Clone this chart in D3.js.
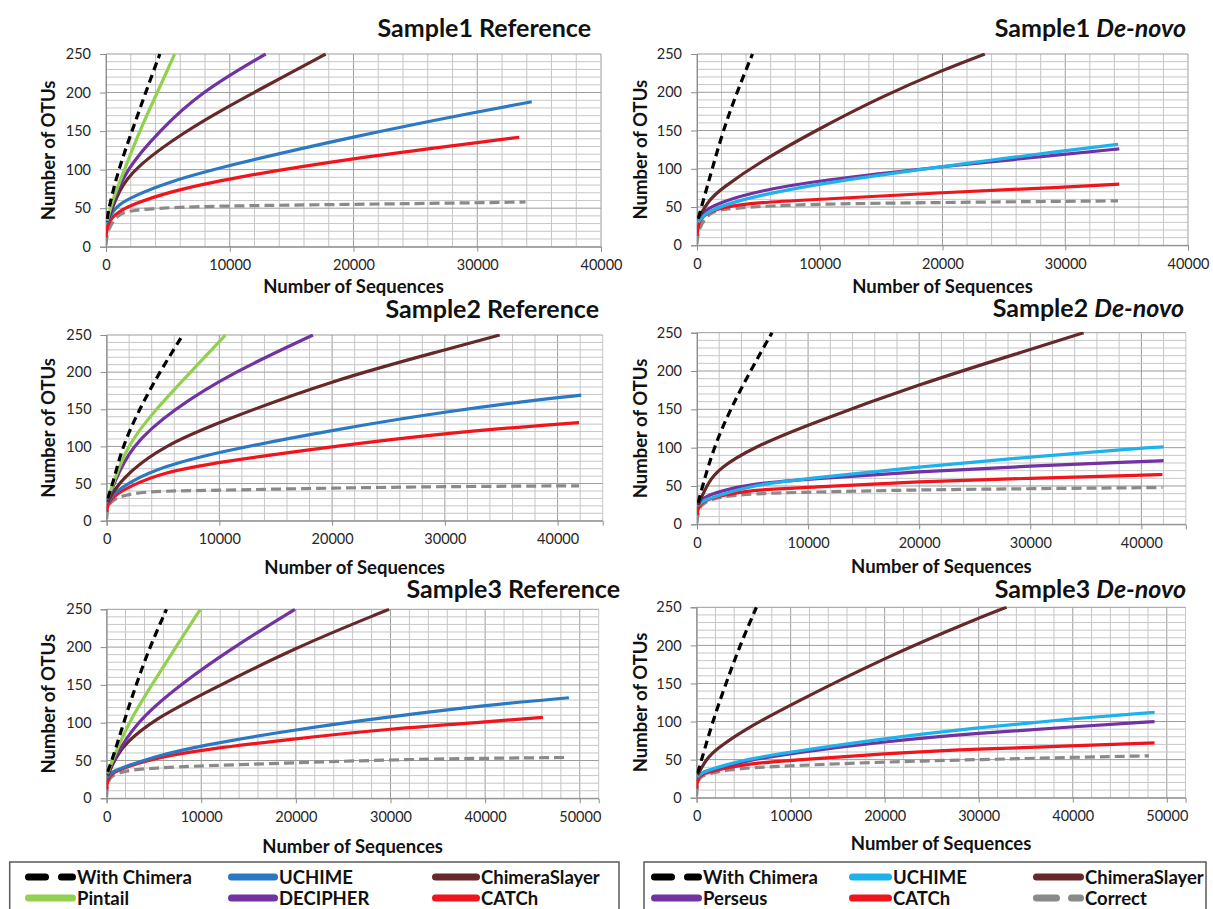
<!DOCTYPE html>
<html>
<head>
<meta charset="utf-8">
<script src="https://cdnjs.cloudflare.com/ajax/libs/d3/7.8.5/d3.min.js"></script>
<style>
  body { margin: 0; background: #fff; }
  svg { display: block; }
  text { font-family: Lato, "Open Sans", sans-serif; }
</style>
</head>
<body>
<svg id="chart" width="1213" height="909"></svg>
<script>
// rarefaction curves, [sequences, OTUs]
const s1RefWithChimera = [[100,36],[250,52],[1000,100],[2100,150],[3200,200],[4350,250]];
const s1RefPintail = [[100,34],[500,60],[1500,100],[2700,150],[4150,200],[5550,250]];
const s1RefDecipher = [[100,33],[500,55],[1600,100],[4300,150],[7600,200],[12900,250]];
const s1RefChimeraSlayer = [[100,32],[500,50],[1000,70],[2100,100],[6400,150],[10000,183],[12300,203],[17750,250]];
const s1RefUchime = [[100,31],[500,45],[1000,54],[2000,64],[5000,84],[10000,106],[20000,143],[30000,175],[34400,188]];
const s1RefCatch = [[0,12],[100,28],[500,38],[1000,45],[2000,54],[5000,71],[10000,89],[20000,115],[30000,135],[33400,142]];
const s1RefCorrect = [[0,2],[100,22],[1000,43],[2000,47],[5000,51],[10000,53],[20000,55],[30000,57],[33900,58]];

const s1DnWithChimera = [[100,35],[450,55],[1240,100],[2130,150],[3250,200],[4520,250]];
const s1DnChimeraSlayer = [[100,35],[1000,60],[2000,74],[5000,108],[10000,153],[15000,194],[20000,229],[23450,250]];
const s1DnUchime = [[100,30],[500,40],[2000,52],[5000,65],[10000,81],[20000,103],[30000,124],[34300,132]];
const s1DnPerseus = [[100,32],[500,45],[2000,57],[5000,71],[10000,85],[20000,103],[30000,119],[34400,126]];
const s1DnCatch = [[0,12],[100,28],[500,40],[2000,50],[5000,56],[10000,60],[20000,69],[30000,76],[34400,80]];
const s1DnCorrect = [[0,2],[100,22],[1000,43],[2000,47],[5000,51],[10000,54],[20000,56],[30000,57.5],[34300,58]];

const s2RefWithChimera = [[100,30],[550,50],[1400,100],[2900,150],[4700,200],[6760,250]];
const s2RefPintail = [[100,30],[600,50],[1750,100],[4350,150],[7450,200],[10550,250]];
const s2RefDecipher = [[100,28],[600,48],[2100,100],[5900,150],[11240,200],[18300,250]];
const s2RefChimeraSlayer = [[100,25],[500,38],[2000,66],[5000,100],[10000,133],[20000,189],[30000,230],[34860,250]];
const s2RefUchime = [[100,24],[500,35],[2000,52],[5000,73],[10000,93],[20000,122],[30000,147],[40000,166],[42100,169]];
const s2RefCatch = [[0,12],[100,22],[500,32],[2000,46],[5000,65],[10000,79],[20000,100],[30000,118],[40000,130],[41900,132]];
const s2RefCorrect = [[0,2],[100,20],[500,28],[2000,37],[5000,40],[10000,41],[20000,44],[30000,46],[41900,47]];

const s2DnWithChimera = [[100,28],[500,50],[1500,100],[3000,150],[4800,200],[6750,250]];
const s2DnChimeraSlayer = [[100,25],[1000,55],[2000,73],[5000,100],[10000,130],[20000,183],[30000,228],[34800,250]];
const s2DnUchime = [[100,24],[500,31],[2000,38],[5000,51],[10000,60],[20000,75],[30000,88],[40000,99.5],[42000,101]];
const s2DnPerseus = [[100,25],[500,35],[2000,43],[5000,53],[10000,59],[20000,69],[30000,76],[40000,82],[42000,83]];
const s2DnCatch = [[0,12],[100,22],[500,30],[2000,37],[5000,45],[10000,48],[20000,56],[30000,60],[40000,64],[41900,65]];
const s2DnCorrect = [[0,2],[100,18],[500,28],[2000,36],[5000,40],[10000,42],[20000,45],[30000,46.5],[41900,48]];

const s3RefWithChimera = [[100,35],[575,50],[1800,100],[3100,150],[4560,200],[6330,250]];
const s3RefPintail = [[100,33],[600,50],[2300,100],[4770,150],[7320,200],[9900,250]];
const s3RefDecipher = [[100,32],[600,48],[3000,100],[7700,150],[13400,200],[19900,250]];
const s3RefChimeraSlayer = [[100,30],[1000,55],[2000,73],[5000,104],[10000,137],[20000,200],[29850,250]];
const s3RefUchime = [[100,27],[500,35],[2000,42],[5000,55],[10000,70],[20000,91],[30000,108],[40000,123],[48850,133]];
const s3RefCatch = [[0,12],[100,25],[500,33],[2000,41],[5000,53],[10000,64],[20000,79],[30000,92],[40000,101],[46100,107]];
const s3RefCorrect = [[0,2],[100,22],[500,30],[2000,37],[5000,40],[10000,43],[20000,47],[30000,51],[40000,53],[48650,54]];

const s3DnWithChimera = [[100,32],[540,50],[1700,100],[3120,150],[4610,200],[6360,250]];
const s3DnChimeraSlayer = [[100,30],[1000,50],[2000,63],[5000,89],[10000,122],[20000,184],[30000,236],[32960,250]];
const s3DnUchime = [[100,27],[500,33],[2000,39],[5000,50],[10000,60],[20000,78],[30000,92],[40000,104],[48700,112]];
const s3DnPerseus = [[100,27],[500,33],[2000,38],[5000,48],[10000,58],[20000,74],[30000,85],[40000,93],[48700,100]];
const s3DnCatch = [[0,12],[100,25],[500,31],[2000,36],[5000,44],[10000,49],[20000,58],[30000,64],[40000,68],[48700,72]];
const s3DnCorrect = [[0,2],[100,22],[500,29],[2000,34],[5000,39],[10000,42],[20000,47],[30000,50],[40000,53],[48100,55]];

const yTicks = [0, 50, 100, 150, 200, 250];
const legendRefLabels = ["With Chimera", "UCHIME", "ChimeraSlayer", "Pintail", "DECIPHER", "CATCh"];
const legendDnLabels = ["With Chimera", "UCHIME", "ChimeraSlayer", "Perseus", "CATCh", "Correct"];

const C = {
  chimera: "#000000",
  uchimeRef: "#2B79C2",
  uchimeDn: "#1EB2EC",
  slayer: "#66292A",
  pintail: "#92D050",
  purple: "#7232A2",
  red: "#F2141C",
  correct: "#8A8A8A",
};
const DASH_BLACK = "8,5";
const DASH_GREY = "10,5";

const svg = d3.select("#chart");
svg.append("rect").attr("width", 1213).attr("height", 909).attr("fill", "#fff");

const panels = [
  { name: "Sample1", kind: "Reference", left: 106, right: 601, top: 54, bottom: 246.7, xMax: 40000,
    titleX: 591, titleY: 37, yTitleX: 49, xTitleY: 287,
    series: [[s1RefCorrect, C.correct, DASH_GREY], [s1RefCatch, C.red], [s1RefUchime, C.uchimeRef],
      [s1RefChimeraSlayer, C.slayer], [s1RefDecipher, C.purple], [s1RefPintail, C.pintail],
      [s1RefWithChimera, C.chimera, DASH_BLACK]] },
  { name: "Sample1", kind: "De-novo", left: 697, right: 1188, top: 54, bottom: 245.3, xMax: 40000,
    titleX: 1186, titleY: 37, yTitleX: 641, xTitleY: 287,
    series: [[s1DnCorrect, C.correct, DASH_GREY], [s1DnCatch, C.red], [s1DnPerseus, C.purple],
      [s1DnUchime, C.uchimeDn], [s1DnChimeraSlayer, C.slayer], [s1DnWithChimera, C.chimera, DASH_BLACK]] },
  { name: "Sample2", kind: "Reference", left: 106.6, right: 602.7, top: 335, bottom: 520.7, xMax: 44000,
    titleX: 599, titleY: 318, yTitleX: 49, xTitleY: 568,
    series: [[s2RefCorrect, C.correct, DASH_GREY], [s2RefCatch, C.red], [s2RefUchime, C.uchimeRef],
      [s2RefChimeraSlayer, C.slayer], [s2RefDecipher, C.purple], [s2RefPintail, C.pintail],
      [s2RefWithChimera, C.chimera, DASH_BLACK]] },
  { name: "Sample2", kind: "De-novo", left: 697, right: 1185.8, top: 332.7, bottom: 524.3, xMax: 44000,
    titleX: 1184, titleY: 317, yTitleX: 641, xTitleY: 567,
    series: [[s2DnCorrect, C.correct, DASH_GREY], [s2DnCatch, C.red], [s2DnPerseus, C.purple],
      [s2DnUchime, C.uchimeDn], [s2DnChimeraSlayer, C.slayer], [s2DnWithChimera, C.chimera, DASH_BLACK]] },
  { name: "Sample3", kind: "Reference", left: 106.6, right: 598.7, top: 609.3, bottom: 798.3, xMax: 52000,
    titleX: 620, titleY: 598, yTitleX: 49, xTitleY: 847,
    series: [[s3RefCorrect, C.correct, DASH_GREY], [s3RefCatch, C.red], [s3RefUchime, C.uchimeRef],
      [s3RefChimeraSlayer, C.slayer], [s3RefDecipher, C.purple], [s3RefPintail, C.pintail],
      [s3RefWithChimera, C.chimera, DASH_BLACK]] },
  { name: "Sample3", kind: "De-novo", left: 696.6, right: 1185.6, top: 607.3, bottom: 797.7, xMax: 52000,
    titleX: 1186, titleY: 598, yTitleX: 641, xTitleY: 844,
    series: [[s3DnCorrect, C.correct, DASH_GREY], [s3DnCatch, C.red], [s3DnPerseus, C.purple],
      [s3DnUchime, C.uchimeDn], [s3DnChimeraSlayer, C.slayer], [s3DnWithChimera, C.chimera, DASH_BLACK]] },
];

const drawPanel = (p, i) => {
  const x = d3.scaleLinear().domain([0, p.xMax]).range([p.left, p.right]);
  const y = d3.scaleLinear().domain([0, 250]).range([p.bottom, p.top]);
  const g = svg.append("g");

  // grid: minor every 2000 / 10, major every 10000 / 50
  const xMinor = d3.range(0, p.xMax + 1, 2000);
  const yMinor = d3.range(0, 251, 10);
  g.selectAll(".vmin").data(xMinor).join("line")
    .attr("x1", x).attr("x2", x).attr("y1", p.top).attr("y2", p.bottom)
    .attr("stroke", (d) => (d % 10000 === 0 ? "#9c9c9c" : "#c6c6c6")).attr("stroke-width", 1);
  g.selectAll(".hmin").data(yMinor).join("line")
    .attr("y1", y).attr("y2", y).attr("x1", p.left).attr("x2", p.right)
    .attr("stroke", (d) => (d % 50 === 0 ? "#9c9c9c" : "#c6c6c6")).attr("stroke-width", 1);

  const yAxis = g.append("g").attr("transform", `translate(${p.left},0)`)
    .call(d3.axisLeft(y).tickValues(yTicks).tickSize(6).tickPadding(9));
  const xAxis = g.append("g").attr("transform", `translate(0,${p.bottom})`)
    .call(d3.axisBottom(x).tickValues(d3.range(0, p.xMax + 1, 10000)).tickSize(5).tickPadding(8).tickFormat(d3.format("d")));
  [yAxis, xAxis].forEach((a) => {
    a.select(".domain").attr("stroke", "#8c8c8c");
    a.selectAll(".tick line").attr("stroke", "#8c8c8c");
    a.selectAll(".tick text").attr("fill", "#262626").style("font-size", "14.5px");
  });

  // curves
  const clipId = `clip${i}`;
  g.append("clipPath").attr("id", clipId).append("rect")
    .attr("x", p.left).attr("y", p.top - 1).attr("width", p.right - p.left + 10).attr("height", p.bottom - p.top + 1);
  const line = d3.line().x((d) => x(d[0])).y((d) => y(d[1])).curve(d3.curveBasis);
  g.append("g").attr("clip-path", `url(#${clipId})`)
    .selectAll("path").data(p.series).join("path")
    .attr("d", (s) => line(s[0]))
    .attr("fill", "none")
    .attr("stroke", (s) => s[1])
    .attr("stroke-width", 3.2)
    .attr("stroke-linejoin", "round")
    .attr("stroke-dasharray", (s) => s[2] || null);

  const title = g.append("text").attr("x", p.titleX).attr("y", p.titleY)
    .attr("text-anchor", "end").style("font-size", "25px").style("font-weight", "bold").attr("fill", "#111");
  title.append("tspan").text(p.name + " ");
  title.append("tspan").style("font-style", p.kind === "De-novo" ? "italic" : "normal").text(p.kind);

  g.append("text").attr("x", (p.left + p.right) / 2).attr("y", p.xTitleY).attr("dy", "0.35em")
    .attr("text-anchor", "middle").style("font-size", "18.5px").style("font-weight", "bold").attr("fill", "#111")
    .text("Number of Sequences");
  g.append("text").attr("transform", `translate(${p.yTitleX},${(p.top + p.bottom) / 2}) rotate(-90)`)
    .attr("dy", "0.35em").attr("text-anchor", "middle").style("font-size", "18.5px").style("font-weight", "bold")
    .attr("fill", "#111").text("Number of OTUs");
};

panels.forEach(drawPanel);

// legends
const legendRows = [877, 898];
const drawLegend = (box, labels, styles, cols) => {
  const lg = svg.append("g");
  lg.append("rect").attr("x", box[0]).attr("y", box[1]).attr("width", box[2] - box[0]).attr("height", 60)
    .attr("fill", "#fff").attr("stroke", "#5a5a5a").attr("stroke-width", 1.5);
  labels.forEach((label, k) => {
    const col = cols[k % 3];
    const yy = legendRows[Math.floor(k / 3)];
    const st = styles[k];
    lg.append("line").attr("x1", col[0] + 3.5).attr("x2", col[1] - 3.5).attr("y1", yy).attr("y2", yy)
      .attr("stroke", st[0]).attr("stroke-width", 7).attr("stroke-linecap", "round")
      .attr("stroke-dasharray", st[1] || null);
    lg.append("text").attr("x", col[1] + 1).attr("y", yy).attr("dy", "0.36em")
      .style("font-size", "18.5px").style("font-weight", "bold").attr("fill", "#111").text(label);
  });
};
drawLegend([9.7, 862, 619], legendRefLabels,
  [[C.chimera, "17,16"], [C.uchimeRef], [C.slayer], [C.pintail], [C.purple], [C.red]],
  [[25, 76], [228, 278], [432, 480]]);
drawLegend([644, 862, 1206], legendDnLabels,
  [[C.chimera, "17,16"], [C.uchimeDn], [C.slayer], [C.purple], [C.red], [C.correct, "20,15"]],
  [[651, 702], [849, 892], [1033, 1084]]);
</script>
</body>
</html>
